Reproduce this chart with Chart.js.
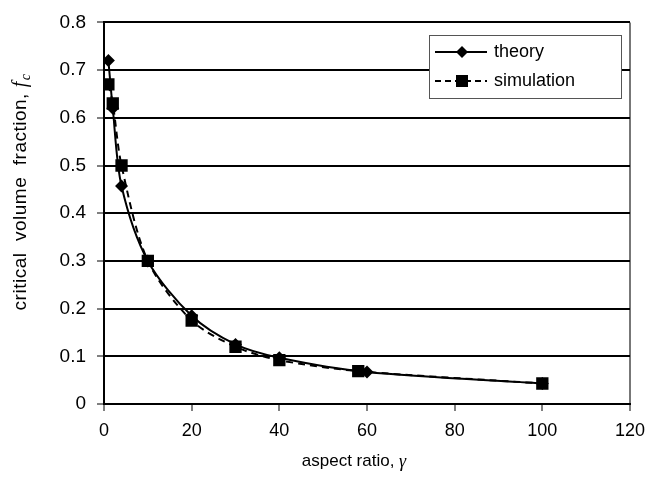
<!DOCTYPE html>
<html>
<head>
<meta charset="utf-8">
<script src="https://cdn.jsdelivr.net/npm/chart.js@4"></script>
<style>
  html, body { margin: 0; padding: 0; background: #fff; }
  #wrap { width: 668px; height: 482px; }
</style>
</head>
<body>
<div id="wrap"><canvas id="fc-chart"></canvas></div>
<script>
// ─── DATA ─────────────────────────────────────────────────
const gammaTheory = [1, 2, 4, 10, 20, 30, 40, 60, 100];
const fcTheory    = [0.72, 0.62, 0.457, 0.30, 0.185, 0.125, 0.097, 0.067, 0.043];
const gammaSim    = [1, 2, 4, 10, 20, 30, 40, 58, 100];
const fcSim       = [0.67, 0.63, 0.50, 0.30, 0.175, 0.12, 0.092, 0.069, 0.043];
const xTicks = [0, 20, 40, 60, 80, 100, 120];
const yTicks = [0, 0.1, 0.2, 0.3, 0.4, 0.5, 0.6, 0.7, 0.8];

const SANS = '"Liberation Sans", Arial, Helvetica, sans-serif';
const SERIF = '"Liberation Serif", "Times New Roman", serif';

const toPoints = (xs, ys) => xs.map((x, i) => ({ x, y: ys[i] }));

// ─── AXIS TITLES + INSET LEGEND ───────────────────────────
const decorations = {
    id: 'decorations',
    afterDraw(chart) {
        const c = chart.ctx;
        const area = chart.chartArea;
        c.save();
        c.fillStyle = '#000';
        c.textBaseline = 'middle';

        // x title: "aspect ratio, γ"
        const xa = 'aspect ratio, ';
        c.font = '17px ' + SANS;
        const wa = c.measureText(xa).width;
        c.font = 'italic 18px ' + SERIF;
        const wg = c.measureText('γ').width;
        const tx = (area.left + area.right) / 2 - 13 - (wa + wg) / 2;
        const ty = 461;
        c.textAlign = 'left';
        c.font = '17px ' + SANS;
        c.fillText(xa, tx, ty);
        c.font = 'italic 18px ' + SERIF;
        c.fillText('γ', tx + wa, ty + 1);

        // y title: "critical volume fraction, f_c"
        c.save();
        c.translate(21, 192);
        c.rotate(-Math.PI / 2);
        c.letterSpacing = '0.5px';
        const ya = 'critical  volume  fraction, ';
        c.font = '19px ' + SANS;
        const wy = c.measureText(ya).width;
        c.font = 'italic 20px ' + SERIF;
        const wf = c.measureText('f').width;
        c.font = 'italic 14px ' + SERIF;
        const wc = c.measureText('c').width;
        const sx = -(wy + wf + wc + 1) / 2;
        c.font = '19px ' + SANS;
        c.fillText(ya, sx, 0);
        c.font = 'italic 20px ' + SERIF;
        c.fillText('f', sx + wy, 0);
        c.font = 'italic 14px ' + SERIF;
        c.fillText('c', sx + wy + wf + 1, 5);
        c.restore();

        // legend box
        const bx = 429, by = 35, bw = 192, bh = 63;
        c.fillStyle = '#fff';
        c.fillRect(bx, by, bw, bh);
        c.strokeStyle = '#555';
        c.lineWidth = 1;
        c.strokeRect(bx + 0.5, by + 0.5, bw, bh);

        const rows = [
            { label: 'theory', y: by + 17, dash: [], shape: 'diamond' },
            { label: 'simulation', y: by + 46, dash: [6, 4], shape: 'square' }
        ];
        rows.forEach(r => {
            c.strokeStyle = '#000';
            c.lineWidth = 2;
            c.setLineDash(r.dash);
            c.beginPath();
            c.moveTo(bx + 6, r.y);
            c.lineTo(bx + 58, r.y);
            c.stroke();
            c.setLineDash([]);
            c.fillStyle = '#000';
            const mx = bx + 33;
            c.beginPath();
            if (r.shape === 'diamond') {
                c.moveTo(mx, r.y - 6);
                c.lineTo(mx + 6, r.y);
                c.lineTo(mx, r.y + 6);
                c.lineTo(mx - 6, r.y);
                c.closePath();
            } else {
                c.rect(mx - 6, r.y - 6, 12, 12);
            }
            c.fill();
            c.font = '18px ' + SANS;
            c.textAlign = 'left';
            c.fillText(r.label, bx + 65, r.y);
        });
        c.restore();
    }
};

// ─── CHART ────────────────────────────────────────────────
new Chart(document.getElementById('fc-chart'), {
    type: 'line',
    data: {
        datasets: [{
            label: 'theory',
            data: toPoints(gammaTheory, fcTheory),
            borderColor: '#000',
            backgroundColor: '#000',
            borderWidth: 2,
            pointStyle: 'rectRot',
            pointRadius: 6.5,
            pointBorderWidth: 0,
            tension: 0.3,
            order: 1
        }, {
            label: 'simulation',
            data: toPoints(gammaSim, fcSim),
            borderColor: '#000',
            backgroundColor: '#000',
            borderWidth: 2,
            borderDash: [7, 5],
            pointStyle: 'rect',
            pointRadius: 8.7,
            pointBorderWidth: 0,
            tension: 0.3,
            order: 0
        }]
    },
    options: {
        responsive: true,
        maintainAspectRatio: false,
        animation: false,
        layout: { padding: { top: 15, right: 38, left: 0, bottom: 0 } },
        plugins: {
            legend: { display: false },
            tooltip: { enabled: false }
        },
        scales: {
            x: {
                type: 'linear',
                min: 0, max: 120,
                afterFit: s => { s.height = 78; },
                afterBuildTicks: s => { s.ticks = xTicks.map(v => ({ value: v })); },
                border: { color: '#000', width: 2 },
                grid: {
                    color: ctx => ctx.tick && ctx.tick.value === 120 ? '#777' : 'rgba(0,0,0,0)',
                    lineWidth: 2,
                    tickColor: '#000',
                    tickLength: 7,
                    tickWidth: 1
                },
                ticks: {
                    font: { family: SANS, size: 18 },
                    color: '#000',
                    padding: 9,
                    maxRotation: 0
                }
            },
            y: {
                type: 'linear',
                min: 0, max: 0.8,
                afterFit: s => { s.width = 104; },
                afterBuildTicks: s => { s.ticks = yTicks.map(v => ({ value: v })); },
                border: { color: '#000', width: 2 },
                grid: {
                    color: '#000',
                    lineWidth: 2,
                    tickColor: '#000',
                    tickLength: 7,
                    tickWidth: 1
                },
                ticks: {
                    font: { family: SANS, size: 19 },
                    color: '#000',
                    padding: 11,
                    callback: v => v === 0 ? '0' : v.toFixed(1)
                }
            }
        }
    },
    plugins: [decorations]
});
</script>
</body>
</html>
